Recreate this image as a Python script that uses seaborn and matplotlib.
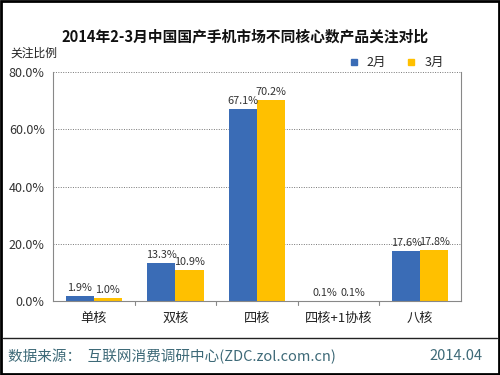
import matplotlib
matplotlib.use('Agg')
import matplotlib.pyplot as plt
import seaborn as sns
import pandas as pd
from matplotlib.lines import Line2D
from matplotlib.patches import Rectangle

categories = ['单核', '双核', '四核', '四核+1协核', '八核']
feb = [1.9, 13.3, 67.1, 0.1, 17.6]
mar = [1.0, 10.9, 70.2, 0.1, 17.8]
series = ['2月', '3月']
colors = ['#3a6cb6', '#ffc000']
yticks = [0, 20, 40, 60, 80]

sns.set_style('white')
plt.rcParams['font.family'] = ['Noto Sans CJK SC', 'DejaVu Sans']

df = pd.DataFrame({
    'cat': categories * 2,
    'val': feb + mar,
    'month': [series[0]] * len(categories) + [series[1]] * len(categories),
})

fig = plt.figure(figsize=(5, 3.75), dpi=100)
ax = fig.add_axes([0.106, 0.197, 0.816, 0.611])
sns.barplot(data=df, x='cat', y='val', hue='month', palette=colors,
            width=0.69, saturation=1, linewidth=0, ax=ax, legend=False)

# value labels
for cont in ax.containers:
    ax.bar_label(cont, labels=[f'{b.get_height():.1f}%' for b in cont],
                 padding=2, fontsize=7.8, color='#333333')

ax.set_ylim(0, 80)
ax.set_xlim(-0.5, len(categories) - 0.5)
ax.set_yticks(yticks)
ax.set_yticklabels([f'{v:.1f}%' for v in yticks], fontsize=9, color='#333333')
ax.set_xticks(range(len(categories)))
ax.set_xticklabels(categories, fontsize=9.5, color='#222222')
ax.tick_params(axis='x', length=0, pad=8)
ax.tick_params(axis='y', length=0, pad=6)
for x in [0.5, 1.5, 2.5, 3.5]:
    ax.plot([x, x], [0, -1.3], color='#888888', lw=0.8, clip_on=False)
ax.set_xlabel('')
ax.set_ylabel('')
for v in yticks[1:]:
    ax.axhline(v, color='#777777', lw=0.7, ls=(0, (1, 1.5)), zorder=0)
for s in ax.spines.values():
    s.set_color('#888888')
    s.set_linewidth(0.8)
ax.spines['top'].set_visible(False)

# legend
handles = [Line2D([], [], marker='s', ls='', color=c, markersize=4.5) for c in colors]
fig.legend(handles, series, loc='center', bbox_to_anchor=(0.785, 0.833), ncol=2,
           frameon=False, fontsize=9, handletextpad=0.05, columnspacing=1.0)

fig.text(0.49, 0.903, '2014年2-3月中国国产手机市场不同核心数产品关注对比',
         ha='center', va='center', fontsize=10.6, fontweight='bold', color='#111111')
fig.text(0.02, 0.858, '关注比例', ha='left', va='center', fontsize=8.5, color='#222222')

# footer
fig.add_artist(Line2D([0.006, 0.994], [0.099, 0.099], color='#222222', lw=1))
fig.text(0.016, 0.05, '数据来源：  互联网消费调研中心(ZDC.zol.com.cn)',
         ha='left', va='center', fontsize=10.5, color='#3e6a78')
fig.text(0.966, 0.05, '2014.04', ha='right', va='center', fontsize=10.5, color='#3e6a78')

fig.add_artist(Rectangle((0.002, 0.003), 0.996, 0.994, transform=fig.transFigure,
                         fill=False, ec='black', lw=2))

fig.savefig('out.png', dpi=100)
